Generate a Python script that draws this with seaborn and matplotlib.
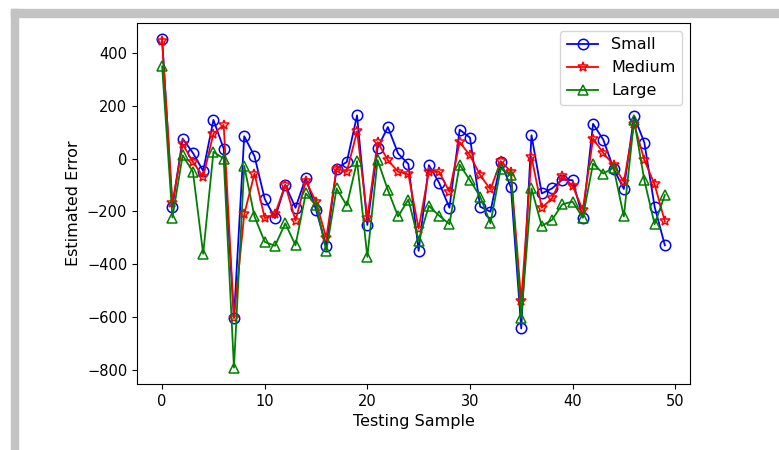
import numpy as np
import matplotlib
matplotlib.use("Agg")
import matplotlib.pyplot as plt
import seaborn as sns
from matplotlib.patches import Rectangle

# Werte (50 Testproben)
sample = np.arange(50)
small = [450, -183, 75, 21, -47, 146, 37, -602, 84, 9,
         -153, -225, -100, -186, -73, -194, -330, -38, -13, 163,
         -251, 40, 119, 19, -21, -349, -25, -92, -186, 109,
         79, -182, -201, -13, -109, -642, 88, -132, -113, -80,
         -82, -223, 131, 71, -38, -115, 160, 60, -182, -328]
medium = [445, -169, 54, -13, -69, 94, 127, -602, -211, -57,
          -225, -210, -100, -235, -85, -163, -301, -38, -50, 103,
          -226, 62, -6, -50, -60, -265, -50, -50, -126, 62,
          12, -63, -117, -10, -50, -539, 6, -186, -151, -65,
          -103, -194, 75, 21, -25, -88, 131, -6, -98, -238]
large = [348, -223, 12, -50, -360, 25, 0, -790, -28, -219,
         -315, -330, -245, -328, -132, -176, -349, -113, -178, -10,
         -372, -6, -119, -219, -155, -310, -179, -216, -248, -23,
         -82, -144, -245, -38, -63, -602, -113, -255, -232, -173,
         -163, -223, -19, -57, -35, -219, 144, -82, -248, -138]

series = [("Small", small, "b", "o"),
          ("Medium", medium, "r", "*"),
          ("Large", large, "g", "^")]

plt.rcParams['font.family'] = ['DejaVu Sans']
plt.rcParams['font.size'] = 10.5

fig = plt.figure(figsize=(7.79, 4.5), dpi=100)
W, H = 779, 450
ax = fig.add_axes([137 / W, 1 - 384 / H, (690 - 137) / W, (384 - 23) / H])

# grauer Rahmen wie im Screenshot
fig.patches.append(Rectangle((11 / W, 0), 7 / W, 1 - 9 / H, transform=fig.transFigure,
                             color="#c3c3c3", zorder=0))
fig.patches.append(Rectangle((11 / W, 1 - 17 / H), 1 - 11 / W, 8 / H, transform=fig.transFigure,
                             color="#c3c3c3", zorder=0))

for name, vals, col, mk in series:
    sns.lineplot(x=sample, y=vals, ax=ax, label=name, color=col, marker=mk,
                 markersize=7.5, markerfacecolor="none", markeredgecolor=col,
                 markeredgewidth=1.1, linewidth=1.3)

ax.set_xlabel("Testing Sample", fontsize=11.5)
ax.set_ylabel("Estimated Error", fontsize=11.5)
ax.set_xticks([0, 10, 20, 30, 40, 50])
ax.set_yticks([400, 200, 0, -200, -400, -600, -800])
ax.tick_params(labelsize=10.5)
ax.legend(loc="upper right", fontsize=11.5)

fig.savefig("out.png", dpi=100)
